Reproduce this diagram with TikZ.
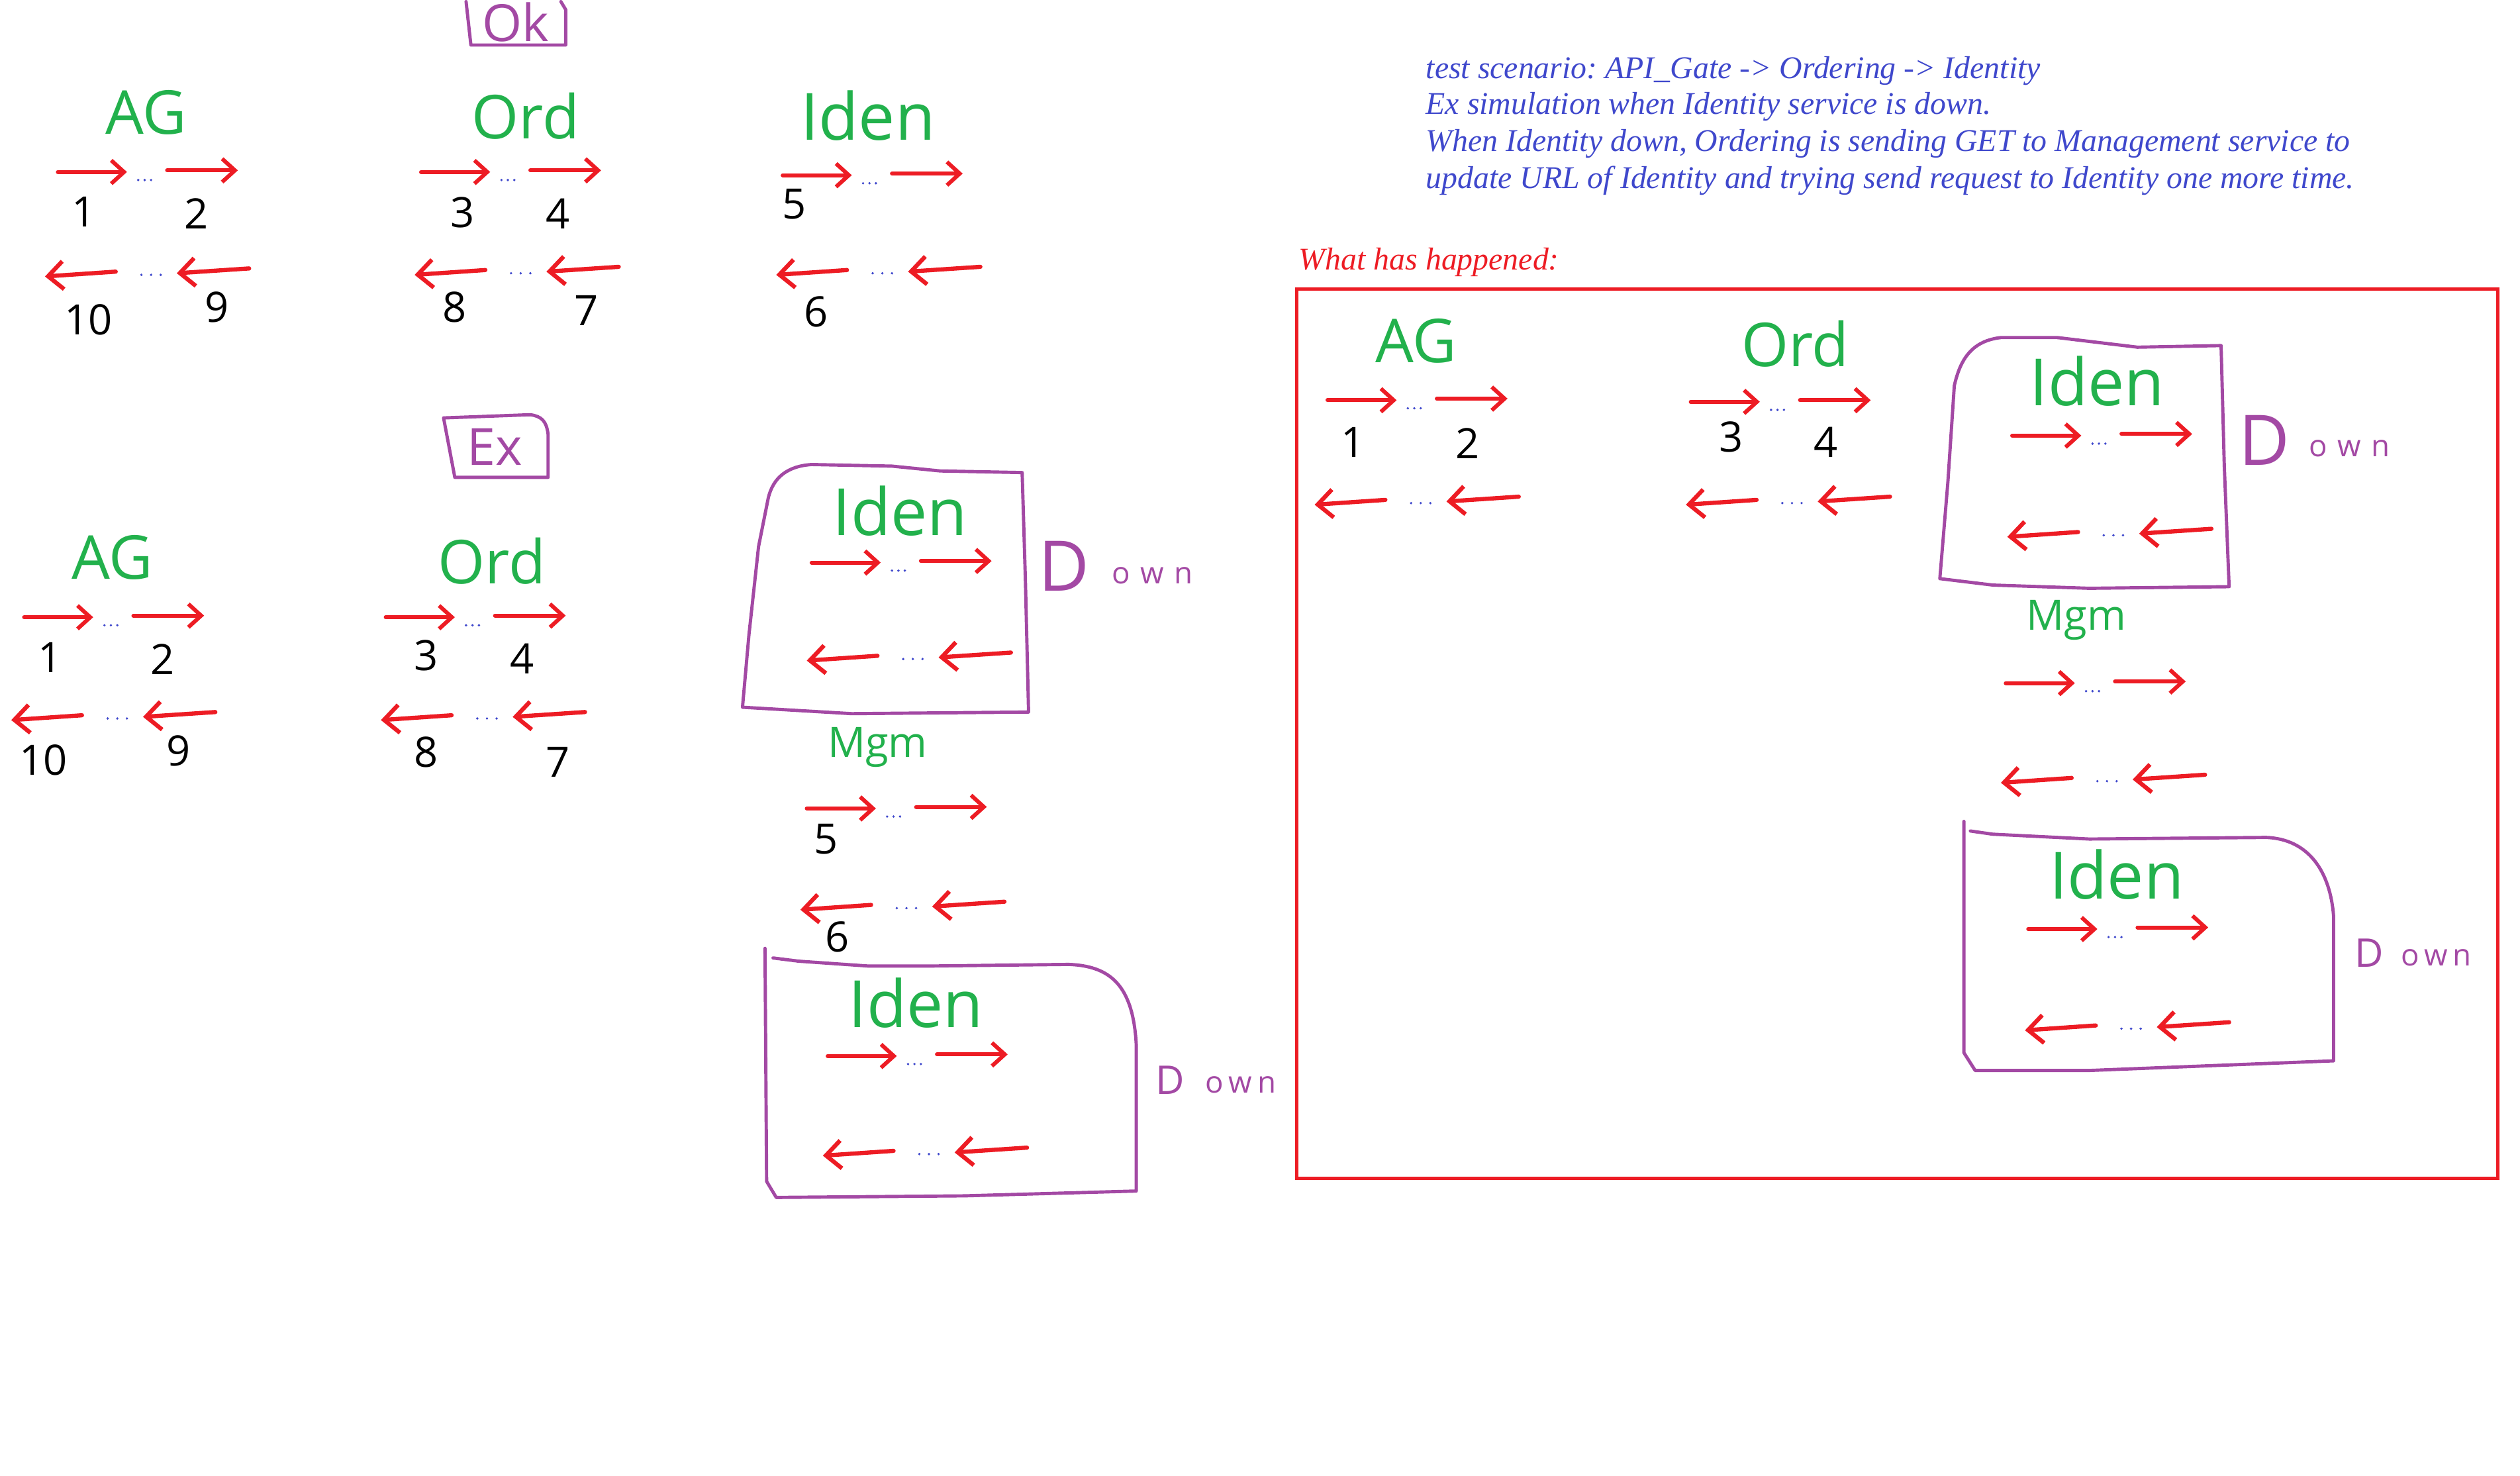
\documentclass[tikz,border=0pt]{standalone}
\usepackage{fontspec}
\setmainfont{Liberation Serif}
\newfontfamily\hand{Open Sans}
\usetikzlibrary{arrows.meta}
\frenchspacing
\definecolor{pgreen}{HTML}{22B14C}
\definecolor{pred}{HTML}{ED1C24}
\definecolor{ppurple}{HTML}{A349A4}
\definecolor{pblue}{HTML}{3F48CC}
\tikzset{
  redarr/.style={draw=pred, line width=1.7pt, line cap=round, -{Straight Barb[length=5.5pt,width=10pt]}},
  redarrl/.style={draw=pred, line width=1.8pt, line cap=round, -{Straight Barb[length=6.5pt,width=12pt]}},
  lbl/.style={text=pgreen, font=\hand\fontsize{26}{28}\selectfont, inner sep=0pt},
  idn/.style={text=pgreen, font=\hand\fontsize{28}{30}\selectfont, inner sep=0pt},
  mgm/.style={text=pgreen, font=\hand\fontsize{18}{20}\selectfont, inner sep=0pt},
  num/.style={text=black, font=\hand\fontsize{18}{20}\selectfont, inner sep=0pt},
  tag/.style={text=ppurple, font=\hand\fontsize{22}{24}\selectfont, inner sep=0pt},
  bigD/.style={text=ppurple, font=\hand\fontsize{30}{32}\selectfont, inner sep=0pt},
  smallD/.style={text=ppurple, font=\hand\fontsize{17}{19}\selectfont, inner sep=0pt},
  own/.style={text=ppurple, font=\hand\fontsize{13}{15}\selectfont, inner sep=0pt},
  phbox/.style={draw=ppurple, line width=1.4pt, line join=round, line cap=round},
  note/.style={text=pblue, font=\itshape\fontsize{13.6}{16}\selectfont, inner sep=0pt, anchor=base west},
  pics/fwd/.style={code={
    \coordinate (-a) at (0,0); \coordinate (-b) at (43,0);
    \coordinate (-c) at (68,-1); \coordinate (-d) at (112,-1);
    \draw[redarr] (-a) -- (-b);
    \draw[redarr] (-c) -- (-d);
    \fill[pblue] (50,5) circle (0.8) (54,5) circle (0.8) (58,5) circle (0.8);
  }},
  pics/bwd/.style={code={
    \coordinate (-a) at (44,-3); \coordinate (-b) at (0,0);
    \coordinate (-c) at (127,-5); \coordinate (-d) at (82,-2);
    \draw[redarrl] (-a) -- (-b);
    \draw[redarrl] (-c) -- (-d);
    \fill[pblue] (60,-1) circle (0.8) (66,-1) circle (0.8) (72,-1) circle (0.8);
  }}
}
\begin{document}
\begin{tikzpicture}[x=0.024273cm, y=-0.024273cm]
\useasboundingbox (0,0) rectangle (1568,918);

% ---------- OK scenario ----------
\draw[phbox] (290,1) -- (293,28) -- (352,28) -- (352,6) -- (349,1);
\node[tag] (ok) at (321,14) {Ok};

\node[lbl] (ag1) at (91,70) {AG};
\node[lbl] (ord1) at (327,72) {Ord};
\node[idn] (id1) at (540,72) {Iden};
\pic (ag1f) at (36,107) {fwd};
\pic (ag1b) at (28,172) {bwd};
\pic (ord1f) at (262,107) {fwd};
\pic (ord1b) at (258,171) {bwd};
\pic (id1f) at (487,109) {fwd};
\pic (id1b) at (483,171) {bwd};
\node[num] (n1a) at (52,132) {1};
\node[num] (n2a) at (122,133) {2};
\node[num] (n10a) at (55,199) {10};
\node[num] (n9a) at (135,191) {9};
\node[num] (n3a) at (288,132) {3};
\node[num] (n4a) at (347,133) {4};
\node[num] (n8a) at (283,191) {8};
\node[num] (n7a) at (365,193) {7};
\node[num] (n5a) at (494,127) {5};
\node[num] (n6a) at (508,194) {6};

% ---------- Ex scenario ----------
\draw[phbox] (276,260) -- (283,297) -- (341,297) -- (341,270) .. controls (340,262) and (337,259) .. (330,258) -- cycle;
\node[tag] (ex) at (308,278) {Ex};

\node[lbl] (ag2) at (70,347) {AG};
\node[lbl] (ord2) at (306,349) {Ord};
\pic (ag2f) at (15,384) {fwd};
\pic (ag2b) at (7,448) {bwd};
\pic (ord2f) at (240,384) {fwd};
\pic (ord2b) at (237,448) {bwd};
\node[num] (n1b) at (31,409) {1};
\node[num] (n2b) at (101,410) {2};
\node[num] (n10b) at (27,473) {10};
\node[num] (n9b) at (111,467) {9};
\node[num] (n3b) at (265,408) {3};
\node[num] (n4b) at (325,410) {4};
\node[num] (n8b) at (265,468) {8};
\node[num] (n7b) at (347,474) {7};

\draw[phbox] (462,440) -- (466,395) -- (472,340) -- (478,310) .. controls (481,297) and (490,290) .. (505,289) -- (555,290) -- (585,293) -- (636,294) -- (638,360) -- (640,443) -- (530,444) -- cycle;
\node[idn] (id2) at (560,318) {Iden};
\pic (id2f) at (505,350) {fwd};
\pic (id2b) at (502,411) {bwd};
\node[bigD] (d2) at (662,352) {D};
\node[own] (o2) at (717,358) {o\,\,w\,\,n};

\node[mgm] (mg2) at (546,465) {Mgm};
\pic (mg2f) at (502,503) {fwd};
\pic (mg2b) at (498,566) {bwd};
\node[num] (n5b) at (514,522) {5};
\node[num] (n6b) at (521,583) {6};

\draw[phbox] (476,590) -- (477,735) -- (483,745) -- (600,744) -- (707,741) -- (707,650) .. controls (705,612) and (690,601) .. (665,600) -- (580,601) -- (540,601) -- (497,598) -- (481,596);
\node[idn] (id3) at (570,624) {Iden};
\pic (id3f) at (515,657) {fwd};
\pic (id3b) at (512,719) {bwd};
\node[smallD] (d3) at (728,672) {D};
\node[own] (o3) at (772,675) {o\,w\,n};

% ---------- notes ----------
\node[note] (t1) at (887,49) {test scenario: API\_Gate -> Ordering -> Identity};
\node[note] (t2) at (887,71) {Ex simulation when Identity service is down.};
\node[note] (t3) at (887,94) {When Identity down, Ordering is sending GET to Management service to};
\node[note] (t4) at (887,117) {update URL of Identity and trying send request to Identity one more time.};
\node[note, text=pred] (wh) at (808,168) {What has happened:};

% ---------- What has happened ----------
\draw[pred, line width=1.4pt] (807,180) rectangle (1554,733);

\node[lbl] (ag3) at (881,212) {AG};
\node[lbl] (ord3) at (1117,214) {Ord};
\pic (ag3f) at (826,249) {fwd};
\pic (ag3b) at (818,314) {bwd};
\pic (ord3f) at (1052,250) {fwd};
\pic (ord3b) at (1049,314) {bwd};
\node[num] (n1c) at (842,275) {1};
\node[num] (n2c) at (913,276) {2};
\node[num] (n3c) at (1077,272) {3};
\node[num] (n4c) at (1136,275) {4};

\draw[phbox] (1207,360) -- (1212,300) -- (1216,240) .. controls (1220,222) and (1228,212) .. (1245,210) -- (1280,210) -- (1330,216) -- (1382,215) -- (1384,290) -- (1387,365) -- (1300,366) -- (1240,364) -- cycle;
\node[idn] (id4) at (1305,237) {Iden};
\pic (id4f) at (1252,271) {fwd};
\pic (id4b) at (1249,334) {bwd};
\node[bigD] (d4) at (1409,274) {D};
\node[own] (o4) at (1462,279) {o\,\,w\,\,n};

\node[mgm] (mg4) at (1292,386) {Mgm};
\pic (mg4f) at (1248,425) {fwd};
\pic (mg4b) at (1245,487) {bwd};

\draw[phbox] (1222,511) -- (1222,655) -- (1229,666) -- (1300,666) -- (1452,660) -- (1452,570) .. controls (1450,543) and (1437,522) .. (1410,521) -- (1300,522) -- (1240,519) -- (1226,517);
\node[idn] (id5) at (1317,544) {Iden};
\pic (id5f) at (1262,578) {fwd};
\pic (id5b) at (1260,641) {bwd};
\node[smallD] (d5) at (1474,593) {D};
\node[own] (o5) at (1516,596) {o\,w\,n};
\end{tikzpicture}
\end{document}
